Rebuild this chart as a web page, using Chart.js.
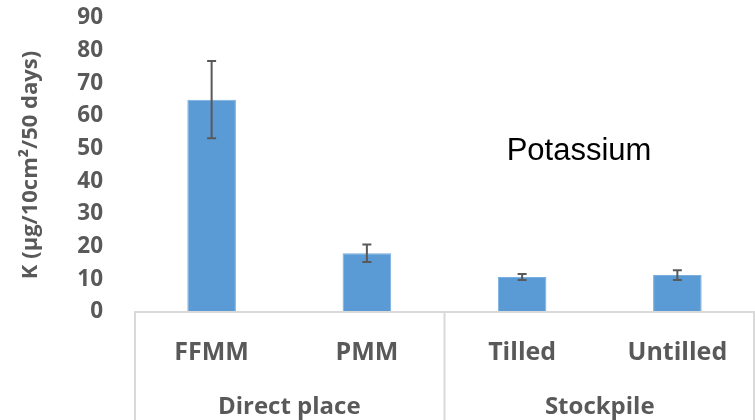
<!DOCTYPE html>
<html>
<head>
<meta charset="utf-8">
<script src="https://cdn.jsdelivr.net/npm/chart.js@4"></script>
<style>
  html, body { margin: 0; padding: 0; background: #fff; }
  #wrap { width: 755px; height: 420px; }
</style>
</head>
<body>
<div id="wrap"><canvas id="c" width="755" height="420"></canvas></div>
<script>
// Potassium release per treatment (µg/10cm²/50 days)
const categories = ['FFMM', 'PMM', 'Tilled', 'Untilled'];
const groupNames = ['Direct place', 'Stockpile'];
const groupSizes = [2, 2];
const kMean = [65, 18, 10.7, 11.3];
const kError = [11.8, 2.7, 0.9, 1.5];
const yMin = 0, yMax = 90, yStep = 10;

const TEXT = '#595959';
const LINE = '#d9d9d9';
const FONT = '"Open Sans", "Noto Sans", sans-serif';

// Error bars with caps, centred on each bar
const errorBars = {
  id: 'errorBars',
  afterDatasetsDraw(chart) {
    const ctx = chart.ctx;
    const y = chart.scales.y;
    const meta = chart.getDatasetMeta(0);
    ctx.save();
    ctx.strokeStyle = '#595959';
    ctx.lineWidth = 2;
    meta.data.forEach((bar, i) => {
      const x = bar.x;
      const top = y.getPixelForValue(kMean[i] + kError[i]);
      const bot = y.getPixelForValue(kMean[i] - kError[i]);
      const cap = 4.5;
      ctx.beginPath();
      ctx.moveTo(x, top); ctx.lineTo(x, bot);
      ctx.moveTo(x - cap, top); ctx.lineTo(x + cap, top);
      ctx.moveTo(x - cap, bot); ctx.lineTo(x + cap, bot);
      ctx.stroke();
    });
    ctx.restore();
  }
};

// Category axis line, group dividers and group labels
const groupAxis = {
  id: 'groupAxis',
  afterDraw(chart) {
    const ctx = chart.ctx;
    const area = chart.chartArea;
    const zero = chart.scales.y.getPixelForValue(0);
    const step = (area.right - area.left) / categories.length;
    ctx.save();
    ctx.strokeStyle = LINE;
    ctx.lineWidth = 2;
    ctx.beginPath();
    ctx.moveTo(area.left, zero); ctx.lineTo(area.right, zero);
    let idx = 0;
    const bounds = [area.left];
    groupSizes.forEach(n => { idx += n; bounds.push(area.left + idx * step); });
    bounds.forEach(b => {
      const bx = Math.min(Math.max(b, area.left + 1), area.right - 1);
      ctx.moveTo(bx, zero); ctx.lineTo(bx, chart.height);
    });
    ctx.stroke();
    ctx.fillStyle = TEXT;
    ctx.font = 'bold 24px ' + FONT;
    ctx.textAlign = 'center';
    ctx.textBaseline = 'middle';
    groupNames.forEach((g, i) => {
      ctx.fillText(g, (bounds[i] + bounds[i + 1]) / 2, 407);
    });
    ctx.restore();
  }
};

// Nutrient name inside the plot
const nutrientLabel = {
  id: 'nutrientLabel',
  afterDraw(chart) {
    const ctx = chart.ctx;
    ctx.save();
    ctx.fillStyle = '#000';
    ctx.font = '31px "Liberation Sans", Arial, sans-serif';
    ctx.textAlign = 'center';
    ctx.textBaseline = 'middle';
    ctx.fillText('Potassium', 579, 151);
    ctx.restore();
  }
};

new Chart(document.getElementById('c'), {
  type: 'bar',
  data: {
    labels: categories,
    datasets: [{
      label: 'K',
      data: kMean,
      backgroundColor: '#5B9BD5',
      borderColor: '#79AEE0',
      borderWidth: 1,
      barPercentage: 0.313,
      categoryPercentage: 1
    }]
  },
  options: {
    responsive: false,
    animation: false,
    devicePixelRatio: 1,
    layout: { padding: { top: 18, right: 0, left: 0, bottom: 0 } },
    plugins: {
      legend: { display: false },
      tooltip: { enabled: false }
    },
    scales: {
      x: {
        grid: { display: false },
        border: { display: false },
        ticks: {
          color: TEXT,
          font: { family: FONT, size: 25, weight: 'bold' },
          padding: 18,
          maxRotation: 0,
          autoSkip: false
        },
        afterFit(scale) { scale.height = 108; }
      },
      y: {
        min: yMin,
        max: yMax,
        grid: { display: false },
        border: { display: false },
        ticks: {
          stepSize: yStep,
          autoSkip: false,
          color: TEXT,
          font: { family: FONT, size: 22.5, weight: 'bold' },
          padding: 23
        },
        title: {
          display: true,
          text: 'K (µg/10cm²/50 days)',
          color: TEXT,
          font: { family: FONT, size: 22, weight: 'bold' },
          padding: { top: 18, bottom: 0 }
        },
        afterFit(scale) {
          scale.width = 134;
          scale.paddingTop = 0;
          scale.paddingBottom = 0;
        }
      }
    }
  },
  plugins: [errorBars, groupAxis, nutrientLabel]
});
</script>
</body>
</html>
